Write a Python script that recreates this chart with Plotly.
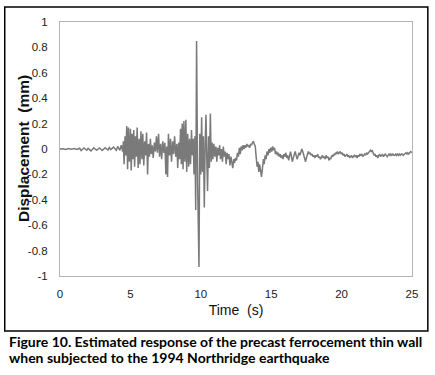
import plotly.graph_objects as go

time_s = [
    0.0, 0.2, 0.4, 0.6, 0.8, 1.0, 1.2, 1.4, 1.5, 1.7, 1.9, 2.0, 2.2, 2.4, 2.6, 2.8,
    3.0, 3.2, 3.4, 3.5, 3.6, 3.8, 4.0, 4.1, 4.25, 4.35, 4.45,
    4.50, 4.55, 4.62, 4.68, 4.74, 4.80, 4.86, 4.93, 5.00, 5.06, 5.12, 5.18, 5.24,
    5.30, 5.36, 5.42, 5.48, 5.55, 5.62, 5.68, 5.75, 5.82, 5.88, 5.95, 6.02, 6.08,
    6.15, 6.22, 6.28, 6.35, 6.42, 6.48, 6.55, 6.62, 6.70, 6.78, 6.85, 6.92, 7.00,
    7.07, 7.15, 7.22, 7.30, 7.38, 7.45, 7.52, 7.58, 7.64, 7.70, 7.78, 7.85, 7.92,
    8.00, 8.07, 8.14, 8.22, 8.30, 8.36, 8.43, 8.50, 8.56, 8.62, 8.68, 8.74, 8.80,
    8.87, 8.94, 9.00, 9.07, 9.14, 9.20, 9.27, 9.34, 9.40, 9.46, 9.52, 9.58, 9.64,
    9.70, 9.78, 9.87, 9.93, 10.00, 10.06, 10.12, 10.18, 10.25, 10.31, 10.37, 10.43,
    10.48, 10.55, 10.61, 10.68, 10.74, 10.80, 10.86, 10.93, 11.00, 11.07, 11.14,
    11.20, 11.27, 11.34, 11.40, 11.47, 11.54, 11.60, 11.67, 11.74, 11.80, 11.87,
    11.94, 12.00, 12.07, 12.14, 12.20, 12.27, 12.34, 12.40, 12.47, 12.54, 12.60,
    12.67, 12.74, 12.80, 12.87, 12.94, 13.00, 13.07, 13.14, 13.20, 13.27, 13.34,
    13.40, 13.47, 13.54, 13.60, 13.67, 13.73, 13.80, 13.87, 13.93, 14.00, 14.06,
    14.12, 14.18, 14.25, 14.31, 14.38, 14.45, 14.50, 14.57, 14.64, 14.70, 14.77,
    14.84, 14.90, 14.97, 15.04, 15.10, 15.17, 15.24, 15.30, 15.37, 15.44, 15.50,
    15.57, 15.64, 15.70, 15.77, 15.84, 15.90, 15.97, 16.04, 16.10, 16.17, 16.24,
    16.30, 16.37, 16.44, 16.50, 16.57, 16.64, 16.70, 16.77, 16.84, 16.90, 16.97,
    17.04, 17.10, 17.17, 17.24, 17.30, 17.37, 17.44, 17.50, 17.57, 17.64, 17.70,
    17.77, 17.84, 17.90, 17.97, 18.04, 18.10, 18.17, 18.24, 18.30, 18.37, 18.44,
    18.50, 18.57, 18.64, 18.70, 18.77, 18.84, 18.90, 18.97, 19.04, 19.10, 19.17,
    19.24, 19.30, 19.37, 19.44, 19.50, 19.57, 19.64, 19.70, 19.77, 19.84, 19.90,
    19.97, 20.04, 20.10, 20.17, 20.24, 20.30, 20.37, 20.44, 20.50, 20.57, 20.64,
    20.70, 20.77, 20.84, 20.90, 20.97, 21.04, 21.10, 21.17, 21.24, 21.30, 21.37,
    21.44, 21.50, 21.57, 21.64, 21.70, 21.77, 21.84, 21.90, 21.97, 22.04, 22.10,
    22.17, 22.24, 22.30, 22.37, 22.44, 22.50, 22.57, 22.64, 22.70, 22.77, 22.84,
    22.90, 22.97, 23.04, 23.10, 23.17, 23.24, 23.30, 23.37, 23.44, 23.50, 23.57,
    23.64, 23.70, 23.77, 23.84, 23.90, 23.97, 24.04, 24.10, 24.17, 24.24, 24.30,
    24.37, 24.44, 24.50, 24.57, 24.64, 24.70, 24.77, 24.84, 24.90, 25.00,
]

displacement_mm = [
    0.0, 0.002, -0.003, 0.004, -0.002, 0.003, -0.004, 0.006, -0.012, 0.008, -0.01, 0.005,
    -0.015, 0.01, -0.01, 0.008, -0.012, 0.01, -0.008, 0.012, -0.005, 0.015, -0.01, 0.02,
    -0.01, 0.03, -0.02,
    0.06, -0.12, 0.10, -0.05, 0.18, -0.16, 0.17, -0.10, 0.16, -0.17, 0.12, -0.08, 0.15,
    -0.14, 0.10, -0.06, 0.17, -0.15, 0.08, -0.12, 0.14, -0.08, 0.12, -0.13, 0.06, -0.05,
    0.13, -0.20, 0.04, -0.06, 0.08, -0.04, 0.03, -0.07, 0.05, -0.02, 0.10, -0.03, 0.12,
    -0.06, 0.04, -0.08, 0.06, -0.03, 0.05, -0.20, 0.02, -0.22, 0.12, -0.05, 0.08, -0.10,
    0.06, -0.04, 0.10, -0.06, 0.04, -0.15, 0.05, -0.08, 0.16, -0.12, 0.20, -0.16, 0.22,
    -0.10, 0.23, -0.18, 0.12, -0.14, 0.08, -0.12, 0.15, -0.05, 0.08, -0.20, 0.10, -0.48,
    0.85, -0.30, -0.93, 0.12, -0.20, 0.25, -0.18, 0.10, -0.46, 0.05, 0.27, -0.10,
    -0.33, 0.10, -0.15, 0.28, -0.10, 0.05, -0.08, 0.04, -0.06, 0.02, -0.10,
    0.01, -0.05, 0.03, -0.08, 0.0, -0.10, 0.02, -0.06, -0.02, -0.12, -0.03,
    -0.08, -0.04, -0.13, -0.06, -0.10, -0.15, -0.08, -0.11, -0.07, -0.09, -0.03,
    -0.06, 0.01, -0.04, 0.02, -0.01, 0.03, 0.0, 0.03, 0.01, 0.04, 0.02,
    0.03, 0.01, 0.04, 0.03, 0.05, 0.06, 0.04, 0.02, -0.06, -0.14, -0.10,
    -0.18, -0.12, -0.20, -0.22, -0.15, -0.08, -0.12, -0.05, -0.08, -0.02, -0.05,
    0.0, -0.03, 0.01, -0.02, 0.02, -0.01, 0.01, -0.04, -0.02, -0.05, -0.03,
    -0.06, -0.04, -0.07, -0.05, -0.08, -0.04, -0.06, -0.03, -0.07, -0.05, -0.09,
    -0.04, -0.02, -0.06, -0.10, -0.07, -0.03, -0.02, -0.05, -0.08, -0.06, -0.03,
    -0.05, -0.02, 0.0, -0.02, -0.05, -0.08, -0.10, -0.07, -0.04, -0.02, -0.04,
    -0.03, -0.05, -0.04, -0.06, -0.05, -0.07, -0.05, -0.06, -0.04, -0.07, -0.06,
    -0.08, -0.06, -0.05, -0.07, -0.06, -0.08, -0.05, -0.07, -0.06, -0.09, -0.07,
    -0.08, -0.05, -0.06, -0.04, -0.05, -0.03, -0.04, -0.02, -0.04, -0.03, -0.02,
    -0.04, -0.03, -0.05, -0.04, -0.06, -0.05, -0.04, -0.06, -0.05, -0.07, -0.06,
    -0.05, -0.07, -0.06, -0.05, -0.06, -0.05, -0.07, -0.05, -0.06, -0.04, -0.05,
    -0.04, -0.06, -0.05, -0.04, -0.05, -0.03, -0.04, -0.03, -0.02, -0.01, -0.02,
    -0.01, -0.03, -0.05, -0.04, -0.06, -0.05, -0.07, -0.05, -0.04, -0.06, -0.05,
    -0.04, -0.06, -0.05, -0.04, -0.05, -0.06, -0.05, -0.04, -0.05, -0.04, -0.05,
    -0.04, -0.05, -0.05, -0.04, -0.05, -0.04, -0.05, -0.04, -0.05, -0.04, -0.04,
    -0.05, -0.04, -0.04, -0.03, -0.04, -0.03, -0.04, -0.03, -0.02, -0.03,
]

x_ticks = [0, 5, 10, 15, 20, 25]
y_ticks = [1, 0.8, 0.6, 0.4, 0.2, 0, -0.2, -0.4, -0.6, -0.8, -1]
y_tick_labels = ["1", "0.8", "0.6", "0.4", "0.2", "0", "-0.2", "-0.4", "-0.6", "-0.8", "-1"]

x_title = "Time \u00a0(s)"
y_title = "Displacement \u00a0(mm)"
caption_lines = [
    "Figure 10. Estimated response of the precast ferrocement thin wall",
    "when subjected to the 1994 Northridge earthquake",
]

fig = go.Figure()
fig.add_trace(go.Scatter(x=time_s, y=displacement_mm, mode="lines",
                         line=dict(color="#7a7a7a", width=1.5), hoverinfo="skip"))

axis_font = dict(family="Liberation Sans, Arial, sans-serif", size=11.5, color="#222222")
fig.update_layout(
    width=435, height=375,
    margin=dict(l=60, r=23, t=22, b=99),
    paper_bgcolor="white", plot_bgcolor="white",
    showlegend=False,
    xaxis=dict(range=[0, 25], tickvals=x_ticks, showgrid=False, zeroline=False,
               showline=True, linecolor="#b5b5b5", linewidth=1, mirror=True,
               ticks="", tickfont=axis_font, ticklabelstandoff=7, automargin=False,
               title=dict(text=x_title, standoff=6,
                          font=dict(family="Liberation Sans, Arial, sans-serif", size=14, color="#111111"))),
    yaxis=dict(range=[-1, 1], tickvals=y_ticks, ticktext=y_tick_labels, showgrid=False,
               zeroline=False, showline=True, linecolor="#b5b5b5", linewidth=1, mirror=True,
               ticks="", tickfont=axis_font, ticklabelstandoff=9, automargin=False),
)

fig.add_annotation(text="<b>" + y_title + "</b>", xref="paper", yref="paper",
                   x=-0.105, y=0.5, xanchor="center", yanchor="middle", textangle=-90,
                   showarrow=False,
                   font=dict(family="Liberation Sans, Arial, sans-serif", size=15.5, color="#111111"))

fig.add_shape(type="rect", xref="paper", yref="paper",
              x0=-0.157, x1=1.045, y0=-0.2165, y1=1.059,
              line=dict(color="black", width=1.5))

caption_y = [-0.2598, -0.3189]
for line, yy in zip(caption_lines, caption_y):
    fig.add_annotation(text="<b>" + line + "</b>", xref="paper", yref="paper",
                       x=-0.151, y=yy, xanchor="left", yanchor="middle", showarrow=False,
                       align="left",
                       font=dict(family="Lato, sans-serif", size=14, color="black"))

fig.write_html("out.html", config={"displayModeBar": False},
               post_script="document.body.style.margin='0';")
